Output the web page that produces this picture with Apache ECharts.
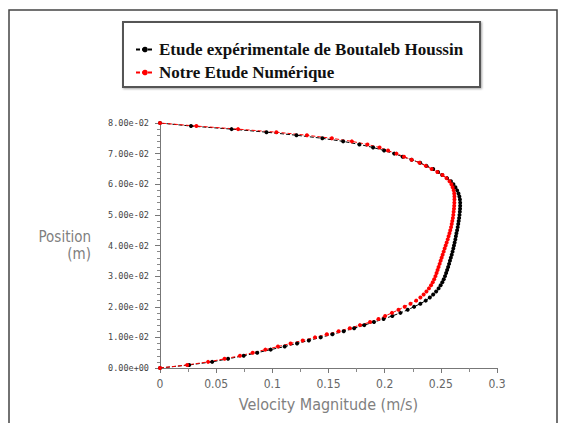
<!DOCTYPE html>
<html>
<head>
<meta charset="utf-8">
<script src="https://cdn.jsdelivr.net/npm/echarts@6/dist/echarts.min.js"></script>
<style>
html,body{margin:0;padding:0;background:#fff;}
#chart{width:570px;height:423px;}
</style>
</head>
<body>
<div id="chart"></div>
<script>
// Positions (m)
var positions = [
  0.000, 0.001, 0.002, 0.003, 0.004, 0.005, 0.006, 0.007, 0.008, 0.009,
  0.010, 0.011, 0.012, 0.013, 0.014, 0.015, 0.016, 0.017, 0.018, 0.019,
  0.020, 0.021, 0.022, 0.023, 0.024, 0.025, 0.026, 0.027, 0.028, 0.029,
  0.030, 0.031, 0.032, 0.033, 0.034, 0.035, 0.036, 0.037, 0.038, 0.039,
  0.040, 0.041, 0.042, 0.043, 0.044, 0.045, 0.046, 0.047, 0.048, 0.049,
  0.050, 0.051, 0.052, 0.053, 0.054, 0.055, 0.056, 0.057, 0.058, 0.059,
  0.060, 0.061, 0.062, 0.063, 0.064, 0.065, 0.066, 0.067, 0.068, 0.069,
  0.070, 0.071, 0.072, 0.073, 0.074, 0.075, 0.076, 0.077, 0.078, 0.079,
  0.080
];
// Velocity magnitude (m/s) - experimental (black)
var experimental = [
  0.0000, 0.0260, 0.0464, 0.0606, 0.0745, 0.0866, 0.0985, 0.1110, 0.1220, 0.1325,
  0.1430, 0.1535, 0.1635, 0.1728, 0.1818, 0.1905, 0.1990, 0.2068, 0.2140, 0.2205,
  0.2262, 0.2318, 0.2365, 0.2402, 0.2432, 0.2458, 0.2480, 0.2498, 0.2513, 0.2526,
  0.2537, 0.2547, 0.2556, 0.2565, 0.2573, 0.2581, 0.2589, 0.2597, 0.2604, 0.2611,
  0.2617, 0.2623, 0.2629, 0.2634, 0.2639, 0.2645, 0.2650, 0.2655, 0.2659, 0.2663,
  0.2666, 0.2669, 0.2671, 0.2672, 0.2672, 0.2670, 0.2665, 0.2657, 0.2645, 0.2630,
  0.2612, 0.2590, 0.2555, 0.2512, 0.2475, 0.2432, 0.2372, 0.2316, 0.2240, 0.2160,
  0.2085, 0.1995, 0.1897, 0.1775, 0.1630, 0.1445, 0.1215, 0.0948, 0.0637, 0.0276,
  0.0000
];
// Velocity magnitude (m/s) - numerical (red)
var numerical = [
  0.0000, 0.0242, 0.0428, 0.0575, 0.0712, 0.0825, 0.0938, 0.1050, 0.1162, 0.1270,
  0.1380, 0.1485, 0.1590, 0.1690, 0.1780, 0.1870, 0.1945, 0.2004, 0.2065, 0.2123,
  0.2178, 0.2230, 0.2280, 0.2318, 0.2347, 0.2372, 0.2394, 0.2413, 0.2428, 0.2441,
  0.2452, 0.2462, 0.2471, 0.2480, 0.2489, 0.2498, 0.2507, 0.2516, 0.2525, 0.2534,
  0.2543, 0.2552, 0.2561, 0.2569, 0.2577, 0.2584, 0.2591, 0.2597, 0.2602, 0.2607,
  0.2611, 0.2614, 0.2617, 0.2619, 0.2620, 0.2621, 0.2621, 0.2619, 0.2614, 0.2605,
  0.2594, 0.2577, 0.2550, 0.2515, 0.2469, 0.2418, 0.2366, 0.2310, 0.2240, 0.2172,
  0.2105, 0.2030, 0.1955, 0.1847, 0.1708, 0.1530, 0.1308, 0.1036, 0.0695, 0.0324,
  0.0000
];
var seriesNames = ["Etude expérimentale de Boutaleb Houssin", "Notre Etude Numérique"];
var xTitle = "Velocity Magnitude (m/s)";
var yTitle = "Position\n(m)";

function pairs(xs) {
  return xs.map(function (x, i) { return [x, positions[i]]; });
}
function sci(v) {
  if (Math.abs(v) < 1e-12) return "0.00e+00";
  var e = Math.floor(Math.log10(Math.abs(v)) + 1e-9);
  var m = v / Math.pow(10, e);
  if (Math.abs(m) >= 9.995) { m = m / 10; e += 1; }
  var es = (e < 0 ? "-" : "+") + (Math.abs(e) < 10 ? "0" : "") + Math.abs(e);
  return m.toFixed(2) + "e" + es;
}

var chart = echarts.init(document.getElementById("chart"), null, {renderer: "svg"});
var narrow = "'Liberation Sans Narrow', 'DejaVu Sans Condensed', 'Liberation Sans', sans-serif";
var option = {
  backgroundColor: "#ffffff",
  animation: false,
  graphic: [
    {type: "rect", shape: {x: 9, y: 10, width: 548, height: 430},
     style: {fill: "none", stroke: "#444", lineWidth: 1.5}, silent: true},
    {type: "rect", shape: {x: 123, y: 22, width: 357, height: 65},
     style: {fill: "#fff", stroke: "#555", lineWidth: 2, shadowColor: "rgba(0,0,0,0.35)", shadowBlur: 2, shadowOffsetX: 1, shadowOffsetY: 1}, silent: true, z: -1}
  ],
  legend: {
    orient: "vertical",
    left: 130,
    top: 36,
    itemWidth: 18,
    itemHeight: 7,
    itemGap: 6,
    textStyle: {fontFamily: "'Liberation Serif', 'DejaVu Serif', serif", fontWeight: "bold", fontSize: 17, color: "#111"},
    data: seriesNames
  },
  grid: {left: 160, right: 73, top: 123, bottom: 55, containLabel: false},
  xAxis: {
    type: "value", min: 0, max: 0.3, interval: 0.05,
    name: xTitle, nameLocation: "middle", nameGap: 28,
    nameTextStyle: {fontFamily: narrow, fontSize: 16, color: "#808080"},
    axisLine: {show: true, lineStyle: {color: "#777", width: 1}},
    axisTick: {show: true, length: 5, lineStyle: {color: "#777"}},
    minorTick: {show: true, splitNumber: 2, length: 4, lineStyle: {color: "#888"}},
    splitLine: {show: false},
    axisLabel: {fontFamily: narrow, fontSize: 12, color: "#666", margin: 10,
      formatter: function (v) { return String(parseFloat(v.toFixed(2))); }}
  },
  yAxis: {
    type: "value", min: 0, max: 0.08, interval: 0.01,
    name: yTitle, nameLocation: "middle", nameGap: 69, nameRotate: 0,
    nameTextStyle: {fontFamily: narrow, fontSize: 15, color: "#808080", align: "right", lineHeight: 17},
    axisLine: {show: true, lineStyle: {color: "#777", width: 1}},
    axisTick: {show: true, length: 5, lineStyle: {color: "#777"}},
    minorTick: {show: true, splitNumber: 5, length: 3, lineStyle: {color: "#888"}},
    splitLine: {show: false},
    axisLabel: {fontFamily: "'DejaVu Sans Mono', monospace", fontSize: 8.5, color: "#444", margin: 11,
      formatter: sci}
  },
  series: [
    {
      name: seriesNames[0], type: "line", data: pairs(experimental),
      symbol: "circle", symbolSize: 4, showSymbol: true,
      itemStyle: {color: "#000"},
      lineStyle: {color: "#000", width: 1, type: [4, 2]}
    },
    {
      name: seriesNames[1], type: "line", data: pairs(numerical),
      symbol: "circle", symbolSize: 4, showSymbol: true,
      itemStyle: {color: "#ff0000"},
      lineStyle: {color: "#ff0000", width: 1, type: [4, 2]}
    }
  ]
};
chart.setOption(option);
</script>
</body>
</html>
